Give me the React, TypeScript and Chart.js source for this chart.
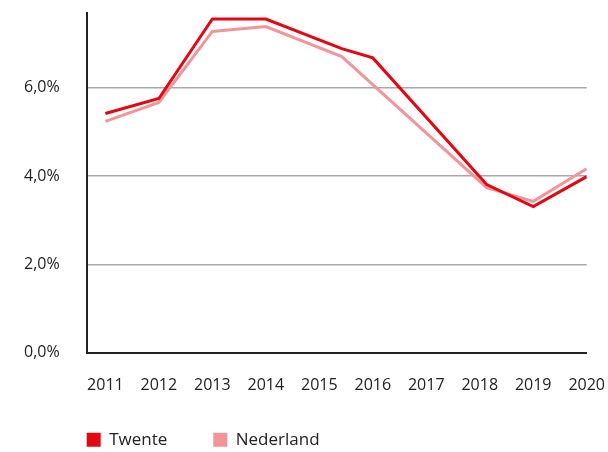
import React, { useEffect, useRef } from 'react';
import { Chart, registerables } from 'chart.js';

Chart.register(...registerables);

// Category / tick labels
const years = [2011, 2012, 2013, 2014, 2015, 2016, 2017, 2018, 2019, 2020];
const yTickValues = [0, 2, 4, 6, 8];

// Series (x = year position of each vertex, y = percentage)
const twenteX = [2011, 2012, 2013, 2014, 2015.42, 2016, 2018.13, 2019, 2020];
const twenteY = [5.42, 5.76, 7.56, 7.56, 6.89, 6.68, 3.81, 3.31, 3.99];
const nederlandX = [2011, 2012, 2013, 2014, 2015.42, 2018.13, 2019, 2020];
const nederlandY = [5.24, 5.67, 7.28, 7.39, 6.71, 3.74, 3.43, 4.17];

const seriesNames = ['Twente', 'Nederland'];
const seriesColors = ['#e30613', '#f2959b'];

const FONT = '"Open Sans", "Noto Sans", sans-serif';
const LEGEND_FONT_SIZE = 17;
const LEGEND_BOX = 14;
const LEGEND_GAP_BELOW_AXIS = 80;

// Legend sits left-aligned with the plot area, a fixed gap below the plot
const legendAlign = {
  id: 'legendAlign',
  afterLayout(chart: any) {
    const lg = chart.legend;
    if (!lg) return;
    const p = lg.options.labels.padding;
    const w = lg.width;
    const h = lg.height;
    lg.left = chart.chartArea.left - p;
    lg.right = lg.left + w;
    lg.top =
      chart.chartArea.bottom + LEGEND_GAP_BELOW_AXIS - p - Math.max((LEGEND_FONT_SIZE - LEGEND_BOX) / 2, 0);
    lg.bottom = lg.top + h;
  },
};

export default function App() {
  const ref = useRef<HTMLCanvasElement | null>(null);

  useEffect(() => {
    if (!ref.current) return;
    const toPoints = (xs: number[], ys: number[]) => xs.map((x, i) => ({ x, y: ys[i] }));
    const chart = new Chart(ref.current, {
      type: 'line',
      data: {
        datasets: [
          {
            label: seriesNames[0],
            data: toPoints(twenteX, twenteY),
            borderColor: seriesColors[0],
            backgroundColor: seriesColors[0],
            borderWidth: 3,
            pointRadius: 0,
            tension: 0,
          },
          {
            label: seriesNames[1],
            data: toPoints(nederlandX, nederlandY),
            borderColor: seriesColors[1],
            backgroundColor: seriesColors[1],
            borderWidth: 3,
            pointRadius: 0,
            tension: 0,
          },
        ],
      },
      plugins: [legendAlign],
      options: {
        responsive: false,
        animation: false,
        layout: { padding: 0 },
        font: { family: FONT },
        scales: {
          x: {
            type: 'linear',
            min: 2010.65,
            max: 2020,
            afterBuildTicks: (scale: any) => {
              scale.ticks = years.map((v) => ({ value: v }));
            },
            grid: { display: false, drawTicks: false },
            border: { display: true, color: '#222', width: 2 },
            ticks: {
              padding: 23,
              color: '#222',
              font: { family: FONT, size: 16 },
              callback: (v: any) => String(v),
              maxRotation: 0,
              autoSkip: false,
            },
          },
          y: {
            min: 0,
            max: 8,
            afterBuildTicks: (scale: any) => {
              scale.ticks = yTickValues.map((v) => ({ value: v }));
            },
            grid: { color: '#a8a8a8', lineWidth: 1.5, drawTicks: false },
            border: { display: true, color: '#222', width: 2 },
            ticks: {
              padding: 27,
              color: '#222',
              font: { family: FONT, size: 16 },
              callback: (v: any) => Number(v).toFixed(1).replace('.', ',') + '%',
            },
          },
        },
        plugins: {
          tooltip: { enabled: false },
          legend: {
            position: 'bottom',
            align: 'start',
            labels: {
              boxWidth: LEGEND_BOX,
              boxHeight: LEGEND_BOX,
              padding: 46,
              color: '#222',
              font: { family: FONT, size: LEGEND_FONT_SIZE },
              generateLabels: (c: any) =>
                Chart.defaults.plugins.legend.labels
                  .generateLabels(c)
                  .map((l: any) => ({ ...l, lineWidth: 0 })),
            },
          },
        },
      },
    });
    return () => chart.destroy();
  }, []);

  return (
    <div
      style={{
        position: 'fixed',
        top: 12,
        left: 0,
        width: 608,
        height: 440,
        overflow: 'hidden',
        background: '#fff',
      }}
    >
      <canvas
        ref={ref}
        width={631}
        height={528}
        style={{ position: 'absolute', top: -49, left: -3, display: 'block' }}
      />
    </div>
  );
}
